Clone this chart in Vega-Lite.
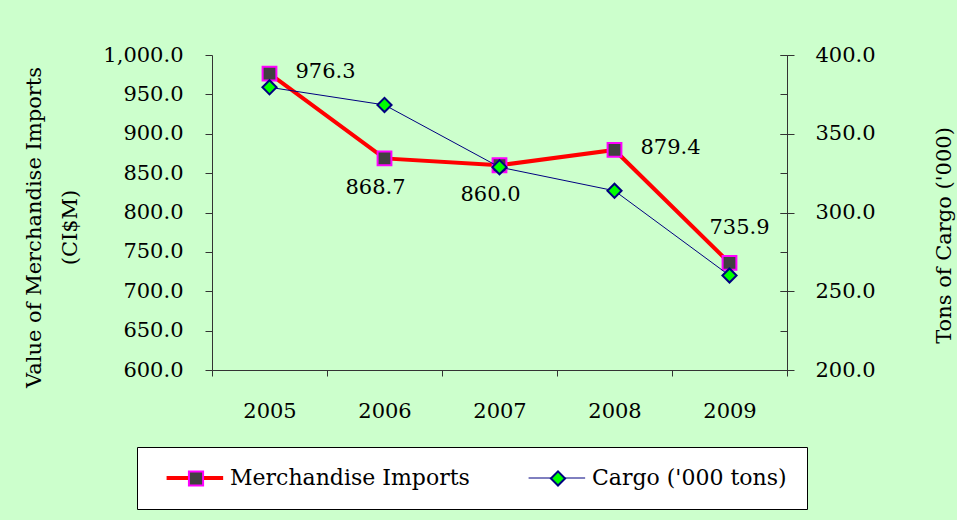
{
  "$schema": "https://vega.github.io/schema/vega-lite/v6.json",
  "width": 575,
  "height": 315,
  "autosize": {"type": "none"},
  "padding": {"left": 212, "top": 55, "right": 170, "bottom": 150},
  "background": "#CCFFCC",
  "config": {
    "font": "DejaVu Serif",
    "view": {"stroke": null},
    "axis": {
      "labelFont": "DejaVu Serif",
      "titleFont": "DejaVu Serif",
      "labelFontSize": 21,
      "titleFontSize": 21,
      "labelColor": "black",
      "titleColor": "black",
      "titleFontWeight": "normal",
      "domainColor": "#333333",
      "tickColor": "#333333",
      "grid": false
    },
    "legend": {"labelFont": "DejaVu Serif", "labelFontSize": 22, "labelColor": "black", "labelLimit": 400}
  },
  "data": {
    "values": [
      {"year": "2005", "series": "Merchandise Imports", "value": 976.3},
      {"year": "2006", "series": "Merchandise Imports", "value": 868.7},
      {"year": "2007", "series": "Merchandise Imports", "value": 860.0},
      {"year": "2008", "series": "Merchandise Imports", "value": 879.4},
      {"year": "2009", "series": "Merchandise Imports", "value": 735.9},
      {"year": "2005", "series": "Cargo ('000 tons)", "value": 379.5},
      {"year": "2006", "series": "Cargo ('000 tons)", "value": 368.3},
      {"year": "2007", "series": "Cargo ('000 tons)", "value": 328.8},
      {"year": "2008", "series": "Cargo ('000 tons)", "value": 313.8},
      {"year": "2009", "series": "Cargo ('000 tons)", "value": 260.0}
    ]
  },
  "encoding": {
    "x": {
      "field": "year",
      "type": "ordinal",
      "scale": {"paddingInner": 0, "paddingOuter": 0},
      "axis": {"title": null, "labelAngle": 0, "tickBand": "extent", "tickSize": 6, "labelPadding": 24}
    }
  },
  "layer": [
    {
      "transform": [{"filter": "datum.series === 'Merchandise Imports'"}],
      "mark": {"type": "line", "strokeWidth": 4},
      "encoding": {
        "y": {
          "field": "value", "type": "quantitative",
          "scale": {"domain": [600, 1000], "nice": false, "zero": false},
          "axis": {"title": ["Value of Merchandise Imports", "(CI$M)"], "titleY": 172, "format": ",.1f", "values": [600, 650, 700, 750, 800, 850, 900, 950, 1000], "tickSize": 7, "labelPadding": 22, "titlePadding": 22, "titleLineHeight": 36}
        },
        "color": {
          "field": "series", "type": "nominal",
          "sort": ["Merchandise Imports", "Cargo ('000 tons)"],
          "scale": {"range": ["#FF0000", "#000080"]},
          "legend": {"orient": "none", "legendX": -75, "legendY": 392, "direction": "horizontal", "title": null, "symbolType": "M-0.2,0H7.8", "symbolSize": 200, "labelOffset": 51, "columnPadding": 49, "padding": 20, "fillColor": "white", "strokeColor": "black",
            "encode": {"symbols": {"update": {"strokeWidth": {"signal": "datum.value === 'Merchandise Imports' ? 4 : 1"}, "fill": {"value": "transparent"}}}}}
        }
      }
    },
    {
      "transform": [{"filter": "datum.series === 'Merchandise Imports'"}],
      "mark": {"type": "point", "filled": true, "size": 190, "strokeWidth": 2, "opacity": 1},
      "encoding": {
        "y": {
          "field": "value", "type": "quantitative",
          "scale": {"domain": [600, 1000], "nice": false, "zero": false},
          "axis": {"title": null, "labels": false, "domain": false, "values": [600, 650, 700, 750, 800, 850, 900, 950, 1000], "tickSize": -7}
        },
        "fill": {"field": "series", "type": "nominal", "scale": {"domain": ["Merchandise Imports", "Cargo ('000 tons)"], "range": ["#404040", "#00FF00"]},
          "legend": {"orient": "none", "legendX": -47, "legendY": 392, "direction": "horizontal", "title": null, "symbolSize": 200, "symbolStrokeWidth": 2, "labelExpr": "''", "labelOffset": 0, "columnPadding": 338, "padding": 20}},
        "shape": {"field": "series", "type": "nominal", "scale": {"domain": ["Merchandise Imports", "Cargo ('000 tons)"], "range": ["square", "diamond"]},
          "legend": {"orient": "none", "legendX": -47, "legendY": 392, "direction": "horizontal", "title": null, "symbolSize": 200, "symbolStrokeWidth": 2, "labelExpr": "''", "labelOffset": 0, "columnPadding": 338, "padding": 20}},
        "stroke": {"field": "series", "type": "nominal", "scale": {"domain": ["Merchandise Imports", "Cargo ('000 tons)"], "range": ["#FF00FF", "#000080"]},
          "legend": {"orient": "none", "legendX": -47, "legendY": 392, "direction": "horizontal", "title": null, "symbolSize": 200, "symbolStrokeWidth": 2, "labelExpr": "''", "labelOffset": 0, "columnPadding": 338, "padding": 20}}
      }
    },
    {
      "transform": [{"filter": "datum.series === 'Merchandise Imports' && (datum.year === '2005' || datum.year === '2008')"}],
      "mark": {"type": "text", "align": "left", "baseline": "middle", "dx": 26, "dy": -2, "fontSize": 21, "font": "DejaVu Serif", "color": "black"},
      "encoding": {
        "y": {"field": "value", "type": "quantitative", "scale": {"domain": [600, 1000], "nice": false, "zero": false}, "axis": null},
        "text": {"field": "value", "type": "quantitative", "format": ".1f"}
      }
    },
    {
      "transform": [{"filter": "datum.series === 'Merchandise Imports' && (datum.year === '2006' || datum.year === '2007')"}],
      "mark": {"type": "text", "align": "center", "baseline": "middle", "dx": -9, "dy": 30, "fontSize": 21, "font": "DejaVu Serif", "color": "black"},
      "encoding": {
        "y": {"field": "value", "type": "quantitative", "scale": {"domain": [600, 1000], "nice": false, "zero": false}, "axis": null},
        "text": {"field": "value", "type": "quantitative", "format": ".1f"}
      }
    },
    {
      "transform": [{"filter": "datum.series === 'Merchandise Imports' && datum.year === '2009'"}],
      "mark": {"type": "text", "align": "center", "baseline": "middle", "dx": 10, "dy": -35, "fontSize": 21, "font": "DejaVu Serif", "color": "black"},
      "encoding": {
        "y": {"field": "value", "type": "quantitative", "scale": {"domain": [600, 1000], "nice": false, "zero": false}, "axis": null},
        "text": {"field": "value", "type": "quantitative", "format": ".1f"}
      }
    },
    {
      "transform": [{"filter": "datum.series === \"Cargo ('000 tons)\""}],
      "mark": {"type": "line", "strokeWidth": 1},
      "encoding": {
        "y": {
          "field": "value", "type": "quantitative",
          "scale": {"domain": [200, 400], "nice": false, "zero": false},
          "axis": {"orient": "right", "title": "Tons of Cargo ('000)", "titleAngle": 270, "titleY": 180, "format": ".1f", "values": [200, 250, 300, 350, 400], "tickSize": 7, "labelPadding": 21, "titlePadding": 79}
        },
        "color": {"field": "series", "type": "nominal", "sort": ["Merchandise Imports", "Cargo ('000 tons)"]}
      }
    },
    {
      "transform": [{"filter": "datum.series === \"Cargo ('000 tons)\""}],
      "mark": {"type": "point", "filled": true, "size": 200, "strokeWidth": 2, "opacity": 1},
      "encoding": {
        "y": {
          "field": "value", "type": "quantitative",
          "scale": {"domain": [200, 400], "nice": false, "zero": false},
          "axis": {"orient": "right", "title": null, "labels": false, "domain": false, "values": [200, 250, 300, 350, 400], "tickSize": -7}
        },
        "fill": {"field": "series", "type": "nominal", "scale": {"domain": ["Merchandise Imports", "Cargo ('000 tons)"]}},
        "shape": {"field": "series", "type": "nominal", "scale": {"domain": ["Merchandise Imports", "Cargo ('000 tons)"]}},
        "stroke": {"field": "series", "type": "nominal", "scale": {"domain": ["Merchandise Imports", "Cargo ('000 tons)"]}}
      }
    }
  ],
  "resolve": {"scale": {"y": "independent"}}
}
